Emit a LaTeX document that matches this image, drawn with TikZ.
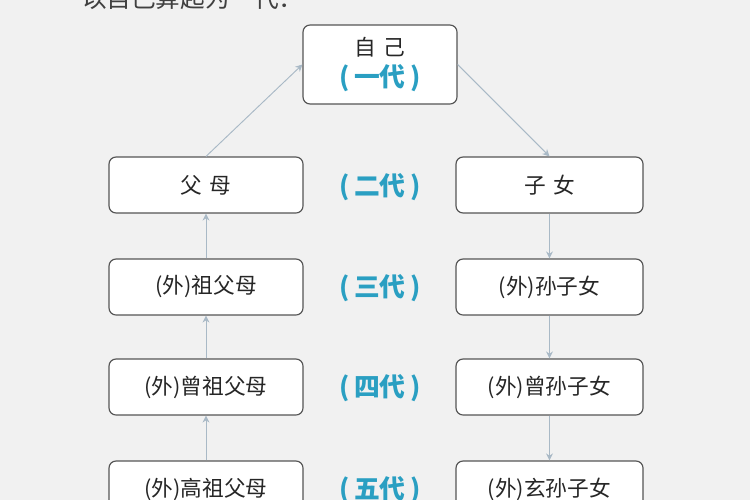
\documentclass[tikz,border=0pt]{standalone}
\usepackage{fontspec}
\newfontfamily\cjk{Noto Sans CJK SC}
\usetikzlibrary{arrows.meta}
\definecolor{bg}{HTML}{F1F1F1}
\definecolor{ln}{HTML}{A9B9C6}
\definecolor{cy}{HTML}{2A9FC2}
\definecolor{bx}{HTML}{555555}
\begin{document}
\begin{tikzpicture}[x=0.03cm,y=-0.03cm,
  box/.style={draw=bx,line width=1pt,fill=white,rounded corners=6pt,minimum height=1.68cm,font=\cjk\fontsize{18.5}{22}\selectfont,text=black!85},
  gen/.style={font=\cjk\bfseries\fontsize{22}{24}\selectfont,text=cy},
  arr/.style={draw=ln,line width=0.8pt,-{Stealth[length=6pt,width=6pt]}}]
\clip (0,0) rectangle (750,500);
\fill[bg] (0,0) rectangle (750,500);
\node[anchor=west,font=\cjk\fontsize{21}{24}\selectfont,text=black!75] (t) at (78,-2) {以自己算起为一代：};
\node[box,minimum width=4.62cm,minimum height=2.37cm,align=center] (s) at (380,64.5) {自\,\,己\\[5pt]{\color{cy}\bfseries\fontsize{22}{24}\selectfont (\,一代\,)}};
\node[box,minimum width=5.82cm] (l2) at (206,185) {父\,\,母};
\node[box,minimum width=5.82cm] (l3) at (206,287) {(外)祖父母};
\node[box,minimum width=5.82cm] (l4) at (206,387) {(外)曾祖父母};
\node[box,minimum width=5.82cm] (l5) at (206,489) {(外)高祖父母};
\node[box,minimum width=5.61cm] (r2) at (549.5,185) {子\,\,女};
\node[box,minimum width=5.61cm] (r3) at (549.5,287) {(外)孙子女};
\node[box,minimum width=5.61cm] (r4) at (549.5,387) {(外)曾孙子女};
\node[box,minimum width=5.61cm] (r5) at (549.5,489) {(外)玄孙子女};
\node[gen] (g2) at (380,187) {(\,二代\,)};
\node[gen] (g3) at (380,288) {(\,三代\,)};
\node[gen] (g4) at (380,388) {(\,四代\,)};
\node[gen] (g5) at (380,490) {(\,五代\,)};
\draw[arr] (l5.north) -- (l4.south);
\draw[arr] (l4.north) -- (l3.south);
\draw[arr] (l3.north) -- (l2.south);
\draw[arr] (l2.north) -- (s.west);
\draw[arr] (s.east) -- (r2.north);
\draw[arr] (r2.south) -- (r3.north);
\draw[arr] (r3.south) -- (r4.north);
\draw[arr] (r4.south) -- (r5.north);
\end{tikzpicture}
\end{document}
